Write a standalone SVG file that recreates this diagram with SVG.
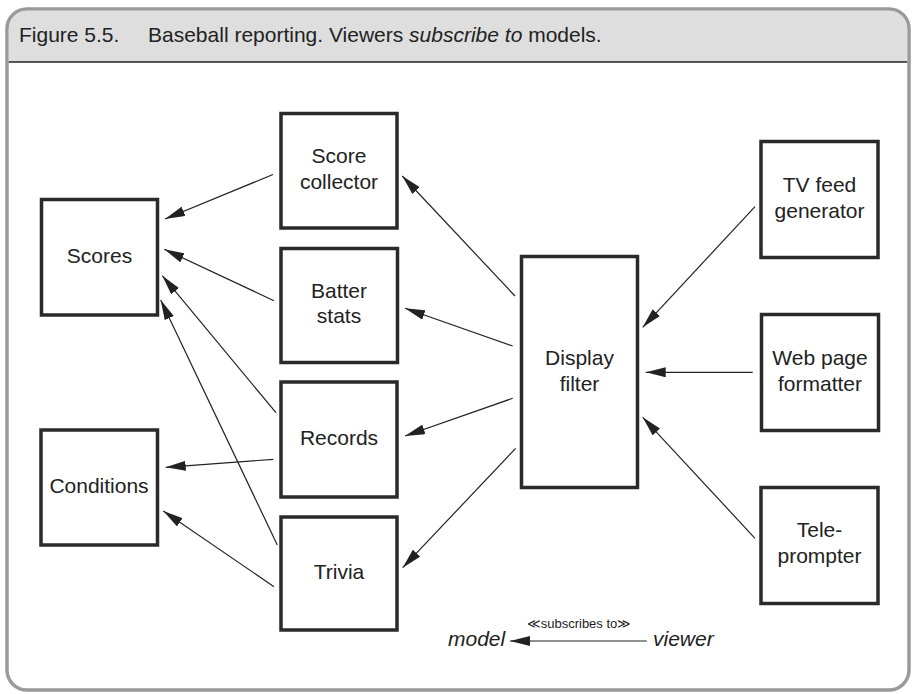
<svg xmlns="http://www.w3.org/2000/svg" width="917" height="694" viewBox="0 0 917 694">
<defs>
<style>
.frame{fill:#fff;stroke:#9a9a9a;stroke-width:3.5}
.hdr{fill:#dedede}
.hline{stroke:#222;stroke-width:1.6}
.box{fill:#fff;stroke:#2a2a2a;stroke-width:3.5}
.lbl{font-family:"Liberation Sans",Arial,Helvetica,sans-serif;font-size:21px;fill:#222;text-anchor:middle}
.title{font-family:"Liberation Sans",Arial,Helvetica,sans-serif;font-size:21px;fill:#222}
.conn line{stroke:#222;stroke-width:1.2;marker-end:url(#ah)}
.it{font-style:italic}
</style>
<marker id="ah" markerUnits="userSpaceOnUse" markerWidth="20" markerHeight="10" refX="20" refY="5" orient="auto" viewBox="0 0 20 10">
<path d="M0,0 L20,5 L0,10 z" fill="#222"/>
</marker>
</defs>
<rect class="frame" x="7" y="9" width="902" height="681" rx="20" ry="20"/>
<path class="hdr" d="M8.75,62 V29 A18.25,18.25 0 0 1 27,10.75 H889 A18.25,18.25 0 0 1 907.25,29 V62 Z"/>
<line class="hline" x1="8.75" y1="62" x2="907.25" y2="62"/>
<text class="title" x="19" y="42">Figure 5.5.<tspan x="148">Baseball reporting. Viewers </tspan><tspan class="it">subscribe to</tspan> models.</text>

<g id="connectors" class="conn">
<line x1="273" y1="174.5" x2="165" y2="219"/>
<line x1="274" y1="300.7" x2="164.3" y2="249.3"/>
<line x1="276" y1="412.7" x2="162.3" y2="275.7"/>
<line x1="277.3" y1="545" x2="160.7" y2="300"/>
<line x1="273.3" y1="459.3" x2="165.7" y2="467.3"/>
<line x1="274" y1="586.7" x2="163.3" y2="511"/>
<line x1="515" y1="296" x2="402.3" y2="176"/>
<line x1="512.7" y1="346" x2="405" y2="308.3"/>
<line x1="512.7" y1="398.3" x2="405" y2="436"/>
<line x1="515.7" y1="448.3" x2="402.7" y2="567.7"/>
<line x1="755" y1="206.7" x2="642.7" y2="327.3"/>
<line x1="752.7" y1="372.3" x2="645.7" y2="372.3"/>
<line x1="755" y1="538.3" x2="642.7" y2="417.3"/>
<line x1="646.7" y1="641" x2="510" y2="641"/>
</g>

<g id="score-collector"><rect class="box" x="281" y="113.5" width="116" height="114.5"/><text class="lbl" x="339" y="163.3">Score</text><text class="lbl" x="339" y="189">collector</text></g>
<g id="scores"><rect class="box" x="41.5" y="199.5" width="116" height="115.5"/><text class="lbl" x="99.5" y="262.7">Scores</text></g>
<g id="batter-stats"><rect class="box" x="281" y="248.5" width="116.5" height="114"/><text class="lbl" x="339" y="298.3">Batter</text><text class="lbl" x="339" y="323.3">stats</text></g>
<g id="records"><rect class="box" x="281" y="382" width="116" height="115"/><text class="lbl" x="339" y="445">Records</text></g>
<g id="conditions"><rect class="box" x="41" y="430" width="116.5" height="115"/><text class="lbl" x="99" y="492.7">Conditions</text></g>
<g id="trivia"><rect class="box" x="281" y="517" width="116" height="113"/><text class="lbl" x="339" y="579.3">Trivia</text></g>
<g id="display-filter"><rect class="box" x="521.5" y="256.5" width="116" height="231"/><text class="lbl" x="579.5" y="365">Display</text><text class="lbl" x="579.5" y="390.7">filter</text></g>
<g id="tv-feed-generator"><rect class="box" x="761" y="141.5" width="117" height="116"/><text class="lbl" x="819.5" y="191.7">TV feed</text><text class="lbl" x="819.5" y="218.3">generator</text></g>
<g id="web-page-formatter"><rect class="box" x="761.5" y="314.5" width="117" height="116"/><text class="lbl" x="820" y="365">Web page</text><text class="lbl" x="820" y="390.7">formatter</text></g>
<g id="teleprompter"><rect class="box" x="761" y="487.5" width="117" height="116"/><text class="lbl" x="819.5" y="537.3">Tele-</text><text class="lbl" x="819.5" y="563.3">prompter</text></g>

<g id="legend">
<text class="title it" x="448" y="646">model</text>
<text class="title it" x="653" y="646">viewer</text>
<text class="lbl" style="font-size:13px" x="579" y="627.7">≪subscribes to≫</text>
</g>
</svg>
